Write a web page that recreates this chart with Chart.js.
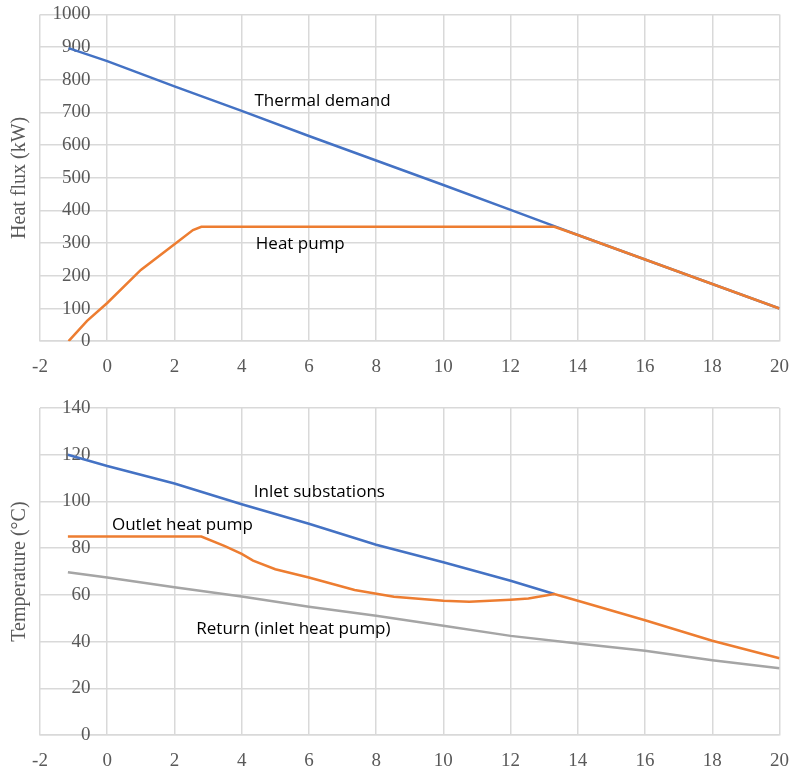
<!DOCTYPE html>
<html>
<head>
<meta charset="utf-8">
<script src="https://cdn.jsdelivr.net/npm/chart.js@4.4.0/dist/chart.umd.min.js"></script>
<style>
  body { margin: 0; background: #fff; overflow: hidden; }
  .wrap { width: 803px; position: relative; }
</style>
</head>
<body>
<div class="wrap" style="height:380px"><canvas id="flux"></canvas></div>
<div class="wrap" style="height:389px"><canvas id="temp"></canvas></div>
<script>
// x axis ticks (shared)
var xMin = -2, xMax = 20, xStep = 2;

// top chart: heat flux (kW)
var demandX = [-1.15, 0, 2, 4, 6, 8, 10, 12, 13.3, 14, 16, 18, 20];
var demandY = [897, 857, 780, 705, 628, 553, 478, 402, 352, 325, 250, 175, 100];
var pumpX = [-1.15, -0.6, 0, 1, 2, 2.55, 2.8, 13.3, 14, 16, 18, 20];
var pumpY = [0, 62, 117, 218, 297, 340, 350, 350, 325, 250, 175, 100];

var fluxNoteText = ["Thermal demand", "Heat pump"];
var fluxNoteX = [4.38, 4.42];
var fluxNoteY = [736, 298];

// bottom chart: temperature (°C)
var inletX = [-1.17, 0, 2, 4, 6, 8, 10, 12, 13.3];
var inletY = [120, 115.2, 107.7, 98.8, 90.5, 81.5, 74, 66.1, 60.4];
var outletX = [-1.17, 2.8, 3.5, 4, 4.34, 5, 6, 7.36, 8.53, 10, 10.77, 12, 12.53, 13.3, 14, 16, 18, 20];
var outletY = [85, 85, 80.9, 77.6, 74.7, 71, 67.5, 62.1, 59.2, 57.5, 57.1, 58, 58.5, 60.4, 57.5, 49.2, 40.4, 32.9];
var returnX = [-1.17, 0, 2, 4, 6, 8, 10, 12, 14, 16, 18, 20];
var returnY = [69.7, 67.5, 63.3, 59.3, 55, 51.1, 46.8, 42.5, 39.2, 36.1, 32.1, 28.6];

var tempNoteText = ["Inlet substations", "Outlet heat pump", "Return (inlet heat pump)"];
var tempNoteX = [4.36, 0.14, 2.65];
var tempNoteY = [104, 89.8, 45.5];

var BLUE = "#4472C4", ORANGE = "#ED7D31", GREY = "#A5A5A5";
var GRID = "#d9d9d9", TICK = "#595959";
var serif = "'Liberation Serif', 'Times New Roman', serif";

function pts(xs, ys) {
    return xs.map(function (x, i) { return { x: x, y: ys[i] }; });
}

function line(label, xs, ys, color) {
    return {
        label: label,
        data: pts(xs, ys),
        borderColor: color,
        backgroundColor: color,
        borderWidth: 2.5,
        pointRadius: 0,
        tension: 0,
        fill: false
    };
}

// text labels on the plot and the rotated y title
var notesPlugin = {
    id: "notes",
    afterDatasetsDraw: function (chart, args, opts) {
        var ctx = chart.ctx, sx = chart.scales.x, sy = chart.scales.y;
        ctx.save();
        ctx.fillStyle = "#000";
        ctx.font = "17px 'Open Sans', 'Noto Sans', sans-serif";
        ctx.textAlign = "left";
        ctx.textBaseline = "middle";
        opts.text.forEach(function (t, i) {
            ctx.fillText(t, sx.getPixelForValue(opts.x[i]), sy.getPixelForValue(opts.y[i]));
        });
        var a = chart.chartArea;
        ctx.translate(20, (a.top + a.bottom) / 2);
        ctx.rotate(-Math.PI / 2);
        ctx.textAlign = "center";
        ctx.fillStyle = TICK;
        ctx.font = "20px " + serif;
        ctx.fillText(opts.title, 0, 0);
        ctx.restore();
    }
};

function makeOptions(yMax, yStep, padTop, padBottom, notes) {
    return {
        responsive: true,
        maintainAspectRatio: false,
        animation: false,
        layout: { padding: { left: 40, right: 11, top: padTop, bottom: padBottom } },
        plugins: {
            legend: { display: false },
            tooltip: { enabled: false },
            notes: notes
        },
        scales: {
            x: {
                type: "linear",
                min: xMin, max: xMax,
                grid: { color: GRID, lineWidth: 1.5, drawTicks: false },
                border: { color: GRID, width: 1.5 },
                ticks: {
                    stepSize: xStep, padding: 14, color: TICK,
                    font: { family: serif, size: 19 }
                }
            },
            y: {
                type: "linear",
                // labels sit just left of the x = 0 line, like the original
                position: { x: -0.5 },
                min: 0, max: yMax,
                grid: { color: GRID, lineWidth: 1.5, drawTicks: false },
                border: { display: false },
                ticks: {
                    stepSize: yStep, color: TICK,
                    format: { useGrouping: false },
                    font: { family: serif, size: 19 }
                }
            }
        }
    };
}

new Chart(document.getElementById("flux"), {
    type: "line",
    data: {
        datasets: [
            line("Heat pump", pumpX, pumpY, ORANGE),
            line("Thermal demand", demandX, demandY, BLUE)
        ]
    },
    options: makeOptions(1000, 100, 0, -12, {
        text: fluxNoteText, x: fluxNoteX, y: fluxNoteY, title: "Heat flux (kW)"
    }),
    plugins: [notesPlugin]
});

new Chart(document.getElementById("temp"), {
    type: "line",
    data: {
        datasets: [
            line("Outlet heat pump", outletX, outletY, ORANGE),
            line("Inlet substations", inletX, inletY, BLUE),
            line("Return (inlet heat pump)", returnX, returnY, GREY)
        ]
    },
    options: makeOptions(140, 20, 28, -17, {
        text: tempNoteText, x: tempNoteX, y: tempNoteY, title: "Temperature (°C)"
    }),
    plugins: [notesPlugin]
});
</script>
</body>
</html>
